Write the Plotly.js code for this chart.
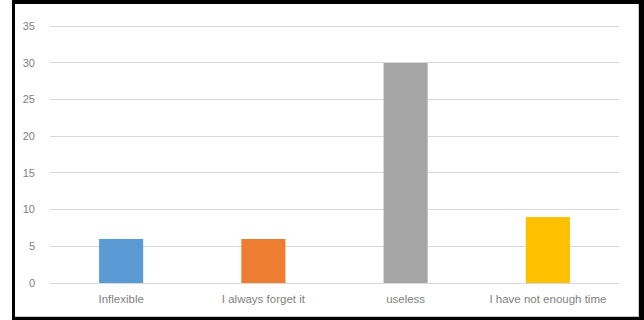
<!DOCTYPE html>
<html>
<head>
<meta charset="utf-8">
<script src="https://cdn.plot.ly/plotly-3.0.1.min.js"></script>
<style>
html,body{margin:0;padding:0;background:#fff;}
#wrap{position:relative;width:644px;height:320px;overflow:hidden;}
#chart{position:absolute;left:0;top:0;width:644px;height:320px;}
#frame{position:absolute;left:12px;top:0;width:624px;height:313px;border-left:3px solid #000;border-top:4px solid #000;border-right:5px solid #000;border-bottom:3px solid #000;box-shadow:inset -1px -1px 0 #c8c8c8;pointer-events:none;}
</style>
</head>
<body>
<div id="wrap">
<div id="chart"></div>
<div id="frame"></div>
</div>
<script>
var categories = ["Inflexible", "I always forget it", "useless", "I have not enough time"];
var values = [6, 6, 30, 9];
var barColors = ["#5B9BD5", "#ED7D31", "#A5A5A5", "#FFC000"];
var yTicks = [0, 5, 10, 15, 20, 25, 30, 35];

var trace = {
  type: "bar",
  x: categories,
  y: values,
  marker: {color: barColors},
  width: 0.31,
  hoverinfo: "x+y"
};

var layout = {
  width: 644,
  height: 320,
  margin: {l: 50, r: 25, t: 24, b: 37},
  paper_bgcolor: "rgba(0,0,0,0)",
  plot_bgcolor: "rgba(0,0,0,0)",
  showlegend: false,
  font: {family: "Liberation Sans, Arial, sans-serif", size: 11, color: "#7f7f7f"},
  xaxis: {
    type: "category",
    showgrid: false,
    zeroline: false,
    showline: false,
    ticks: "",
    ticklabelstandoff: 7,
    tickfont: {size: 11.5, color: "#7f7f7f"}
  },
  yaxis: {
    range: [0, 35.3],
    tickvals: yTicks,
    ticktext: yTicks.map(String),
    showgrid: true,
    gridcolor: "#d9d9d9",
    gridwidth: 1,
    zeroline: true,
    zerolinecolor: "#d9d9d9",
    zerolinewidth: 1,
    showline: false,
    ticks: "",
    ticklabelstandoff: 14,
    tickfont: {size: 11, color: "#7f7f7f"}
  },
  bargap: 0.69
};

Plotly.newPlot("chart", [trace], layout, {displayModeBar: false, staticPlot: true});
</script>
</body>
</html>
